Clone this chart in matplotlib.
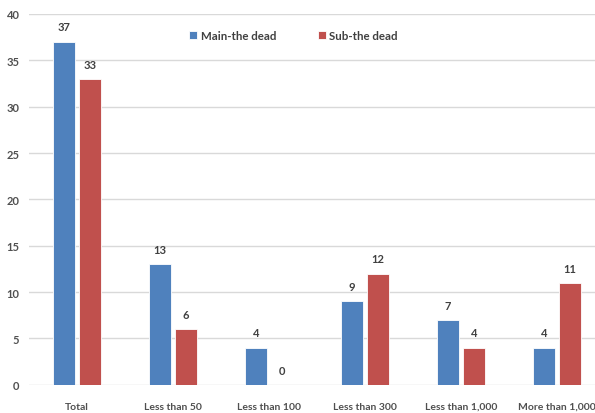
import numpy as np
import matplotlib.pyplot as plt

categories = ['Total', 'Less than 50', 'Less than 100', 'Less than 300',
              'Less than 1,000', 'More than 1,000']
main_dead = [37, 13, 4, 9, 7, 4]
sub_dead = [33, 6, 0, 12, 4, 11]

BLUE = '#4F81BD'
RED = '#C0504D'
TXT = '#404040'

plt.rcParams['font.family'] = ['Lato', 'DejaVu Sans']

fig = plt.figure(figsize=(5.95, 4.14), dpi=100)
ax = fig.add_axes([0.049, 0.068, 0.968, 0.896])

x = np.arange(len(categories))
w = 0.23
off = 0.135
b1 = ax.bar(x - off, main_dead, w, color=BLUE, edgecolor='white', linewidth=0.6,
            label='Main-the dead', zorder=3)
b2 = ax.bar(x + off, sub_dead, w, color=RED, edgecolor='white', linewidth=0.6,
            label='Sub-the dead', zorder=3)

for bars, vals in ((b1, main_dead), (b2, sub_dead)):
    for rect, v in zip(bars, vals):
        ax.text(rect.get_x() + rect.get_width() / 2, v + 1.0, str(v),
                ha='center', va='bottom', fontsize=8, fontweight='bold', color=TXT)

ax.set_xlim(-0.5, 5.5)
ax.set_ylim(0, 40)
ax.set_yticks(range(0, 41, 5))
ax.set_xticks(x)
ax.set_xticklabels(categories)
ax.tick_params(axis='both', length=0, labelsize=7.5, labelcolor='#505050')
ax.tick_params(axis='x', pad=12)
ax.tick_params(axis='y', pad=7, labelsize=8)
for lbl in ax.get_xticklabels() + ax.get_yticklabels():
    lbl.set_fontweight('bold')

ax.grid(axis='y', color='#D9D9D9', linewidth=1, zorder=0)
for s in ax.spines.values():
    s.set_visible(False)

leg = ax.legend(loc='upper left', bbox_to_anchor=(0.26, 0.985), ncol=2, frameon=False,
                fontsize=8.3, handlelength=0.7, handleheight=0.7, handletextpad=0.3,
                columnspacing=3.6)
for t in leg.get_texts():
    t.set_color(TXT)
    t.set_fontweight('bold')

fig.savefig('out.png', dpi=100)
